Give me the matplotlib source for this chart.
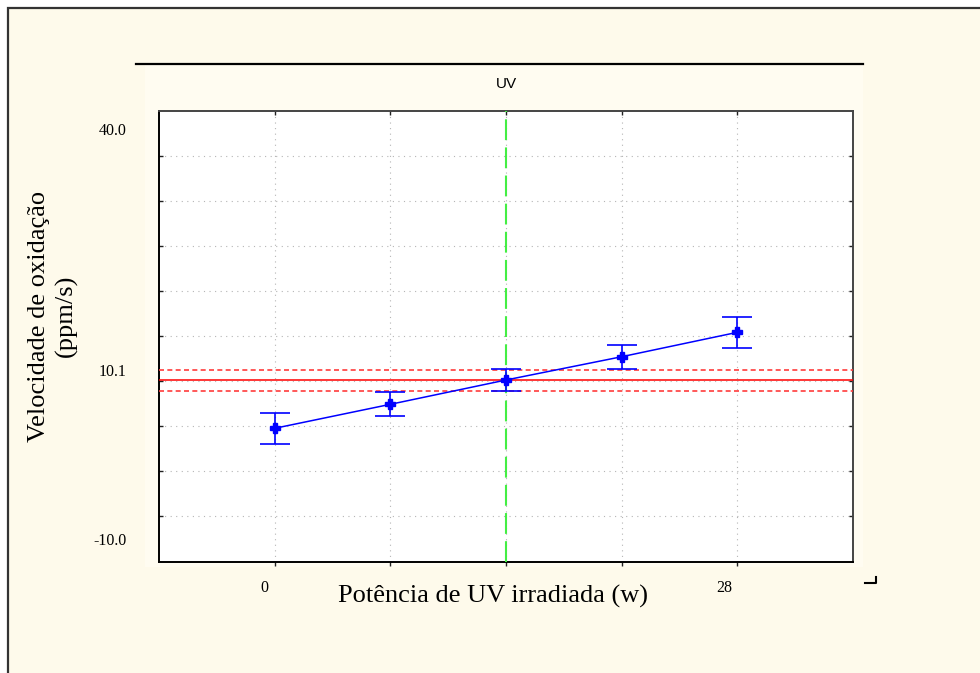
import numpy as np
import matplotlib
matplotlib.use("Agg")
import matplotlib.pyplot as plt
from matplotlib.patches import Rectangle
from matplotlib.lines import Line2D
from matplotlib.transforms import blended_transform_factory

#data
categories = [0, 7, 14, 21, 28]
shownLabels = ["0", "28"]
means = [3.76, 6.69, 9.66, 12.50, 15.48]
errors = [1.91, 1.47, 1.31, 1.47, 1.91]
grandMean = 9.62
grandCI = [8.35, 10.92]
yLabelValues = [40.0, 10.1, -10.0]
yLabelTexts = ["40.0", "10.1", "-10.0"]

W, H = 980, 673
fig = plt.figure(figsize=(W / 100, H / 100), dpi=100)
fig.patch.set_facecolor("white")

#cream page with frame on left/top
fig.patches.append(Rectangle((8 / W, -0.1), 1.2, 1 - 8 / H + 0.1, transform=fig.transFigure,
                             facecolor="#FEFAEB", edgecolor="#333333", linewidth=1.6, zorder=-2))
#slightly lighter panel behind the graph
fig.patches.append(Rectangle((145 / W, 1 - 567 / H), (863 - 145) / W, (567 - 64) / H,
                             transform=fig.transFigure, facecolor="#FFFCF1", edgecolor="none", zorder=-1))
#header line
fig.lines.append(Line2D([136 / W, 863 / W], [1 - 64 / H, 1 - 64 / H], transform=fig.transFigure,
                        color="black", linewidth=1.6))
#corner mark
fig.lines.append(Line2D([865 / W, 876 / W, 876 / W], [1 - 583 / H, 1 - 583 / H, 1 - 577 / H],
                        transform=fig.transFigure, color="black", linewidth=1.5))

ax = fig.add_axes([159 / W, 1 - 561.5 / H, 694 / W, 450.5 / H])
ax.set_zorder(2)
ax.set_facecolor("white")

x = np.arange(len(categories))
ax.set_xlim(-1, len(categories))
ax.set_ylim(-12.5, 42.5)

#grid positions (ten equal steps)
gridY = np.linspace(-12.5, 42.5, 11)[1:-1]
ax.set_xticks(x)
ax.set_yticks(gridY)
ax.set_xticklabels([])
ax.set_yticklabels([])
ax.grid(True, color="#B5B5B5", linestyle=(0, (1, 4)), linewidth=0.8)
ax.tick_params(axis="both", direction="in", length=3, width=1, top=True, right=True, color="#222222")
for t in ax.xaxis.get_major_ticks():
    t.tick1line.set_marker(3)
for s in ["left", "bottom"]:
    ax.spines[s].set_color("black")
    ax.spines[s].set_linewidth(1.4)
for s in ["top", "right"]:
    ax.spines[s].set_color("#444444")
    ax.spines[s].set_linewidth(1.4)

#grand mean with confidence band
ax.axhline(grandMean, color="#FF0000", linewidth=1.1, zorder=3)
for v in grandCI:
    ax.axhline(v, color="#FF3C3C", linewidth=1.2, linestyle=(0, (3, 2)), zorder=3)

#vertical green dashed line at middle level
ax.axvline(x[2], color="#44EE44", linewidth=1.5, linestyle=(0, (10, 3.5)), zorder=3)

#means with error bars
ax.errorbar(x, means, yerr=errors, color="#0000FF", linewidth=1.1, elinewidth=1.2,
            capsize=11, capthick=1.2, marker="P", markersize=6.5, zorder=4)

#y tick labels (placed by hand like the original)
ty = blended_transform_factory(ax.transAxes, ax.transData)
yLabelPos = [40.0, 10.65, -10.0]
for pos, txt in zip(yLabelPos, yLabelTexts):
    ax.text(-0.047, pos, txt, transform=ty, ha="right", va="center",
            family="Liberation Serif", fontsize=11.5)

#x tick labels
tx = blended_transform_factory(ax.transData, ax.transAxes)
ax.text(x[0] - 0.09, -0.059, shownLabels[0], transform=tx, ha="center", va="center",
        family="Liberation Serif", fontsize=11.5)
ax.text(x[-1] - 0.11, -0.059, shownLabels[1], transform=tx, ha="center", va="center",
        family="Liberation Serif", fontsize=11.5)

#titles and axis labels
fig.text(506 / W, 1 - 84 / H, "UV", ha="center", va="center", family="Liberation Sans", fontsize=11)
fig.text(493 / W, 1 - 596 / H, "Potência de UV irradiada (w)", ha="center", va="center",
         family="Liberation Serif", fontsize=19)
fig.text(53 / W, 1 - 316 / H, "Velocidade de oxidação\n(ppm/s)", ha="center", va="center",
         rotation=90, family="Liberation Serif", fontsize=19, linespacing=1.25)

fig.savefig("out.png", dpi=100)
